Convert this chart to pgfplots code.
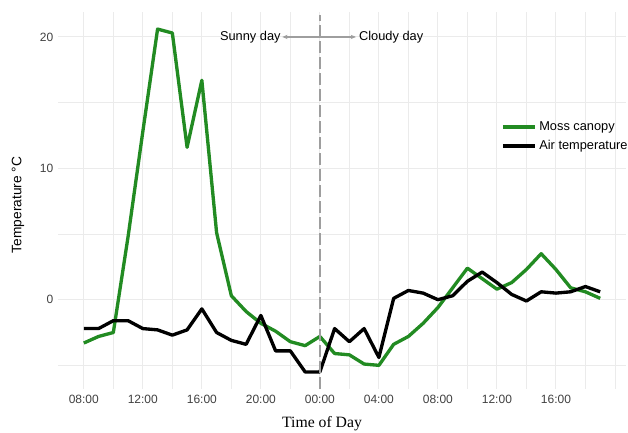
\documentclass[border=0pt]{standalone}
\usepackage{fontspec}
\setmainfont{Liberation Sans}
\newfontfamily\seriffont{Liberation Serif}
\usepackage{pgfplots}
\pgfplotsset{compat=1.18}
\usetikzlibrary{arrows.meta}
\definecolor{moss}{HTML}{228B22}
\definecolor{gridc}{HTML}{EBEBEB}
\begin{document}
\begin{tikzpicture}
\path[use as bounding box] (-43.5pt,-32.25pt) rectangle (427.5pt,291.75pt);
\begin{axis}[
  at={(0pt,0pt)}, anchor=south west,
  scale only axis, width=426pt, height=282.75pt,
  xmin=6.25, xmax=44.75, ymin=-6.8, ymax=21.9,
  axis line style={draw=none},
  major tick length=0pt, minor tick length=0pt,
  xtick={8,12,16,20,24,28,32,36,40},
  xticklabels={08:00,12:00,16:00,20:00,00:00,04:00,08:00,12:00,16:00},
  minor xtick={10,14,18,22,26,30,34,38,42,44},
  ytick={0,10,20}, minor ytick={-5,5,15},
  grid=both,
  major grid style={draw=gridc, line width=0.8pt},
  minor grid style={draw=gridc, line width=0.6pt},
  tick label style={font=\fontsize{9}{11}\selectfont, text=black!75},
  /pgf/number format/assume math mode=true,
  xticklabel style={yshift=-1pt},
  legend style={draw=none, fill=none, at={(0.773,0.724)}, anchor=north west,
    font=\fontsize{9.6}{11}\selectfont, row sep=2pt},
  legend cell align=left,
  legend image code/.code={\draw[#1] (0pt,0pt) -- (24pt,0pt);},
  clip=false,
]
\addplot[draw=moss, line width=2.5pt, line join=round] coordinates {
(8,-3.3) (9,-2.8) (10,-2.5) (11,4.8) (12,12.8) (13,20.6) (14,20.3) (15,11.6)
(16,16.7) (17,5.1) (18,0.3) (19,-0.9) (20,-1.8) (21,-2.4) (22,-3.2) (23,-3.5)
(24,-2.8) (25,-4.1) (26,-4.2) (27,-4.9) (28,-5.0) (29,-3.4) (30,-2.8) (31,-1.8)
(32,-0.6) (33,0.9) (34,2.4) (35,1.6) (36,0.8) (37,1.3) (38,2.3) (39,3.5)
(40,2.3) (41,0.9) (42,0.6) (43,0.1)
};
\addlegendentry{Moss canopy}
\addplot[draw=black, line width=2.5pt, line join=round] coordinates {
(8,-2.2) (9,-2.2) (10,-1.6) (11,-1.6) (12,-2.2) (13,-2.3) (14,-2.7) (15,-2.3)
(16,-0.7) (17,-2.5) (18,-3.1) (19,-3.4) (20,-1.2) (21,-3.9) (22,-3.9) (23,-5.5)
(24,-5.5) (25,-2.2) (26,-3.2) (27,-2.2) (28,-4.4) (29,0.1) (30,0.7) (31,0.5)
(32,0.0) (33,0.3) (34,1.4) (35,2.1) (36,1.3) (37,0.4) (38,-0.1) (39,0.6)
(40,0.5) (41,0.6) (42,1.0) (43,0.6)
};
\addlegendentry{Air temperature}
\draw[draw=black!38, line width=1.1pt, dash pattern=on 9pt off 3pt]
  (axis cs:24,-6.8) -- (axis cs:24,21.7);
\draw[draw=black!38, line width=1pt, -{Stealth[length=4pt,width=3.2pt]}]
  (axis cs:24,20) -- (axis cs:21.45,20);
\draw[draw=black!38, line width=1pt, -{Stealth[length=4pt,width=3.2pt]}]
  (axis cs:24,20) -- (axis cs:26.45,20);
\node[anchor=east, font=\fontsize{9.6}{11}\selectfont, inner sep=0.5pt] at (axis cs:21.4,20) {Sunny day};
\node[anchor=west, font=\fontsize{9.6}{11}\selectfont, inner sep=0.5pt] at (axis cs:26.6,20) {Cloudy day};
\node[rotate=90, anchor=center, font=\fontsize{10.3}{12}\selectfont] at ([xshift=-30pt]rel axis cs:0,0.488) {Temperature °C};
\node[anchor=center, font=\fontsize{11.8}{14}\seriffont] at ([xshift=198pt,yshift=-26pt]rel axis cs:0,0) {Time of Day};
\end{axis}
\end{tikzpicture}
\end{document}
